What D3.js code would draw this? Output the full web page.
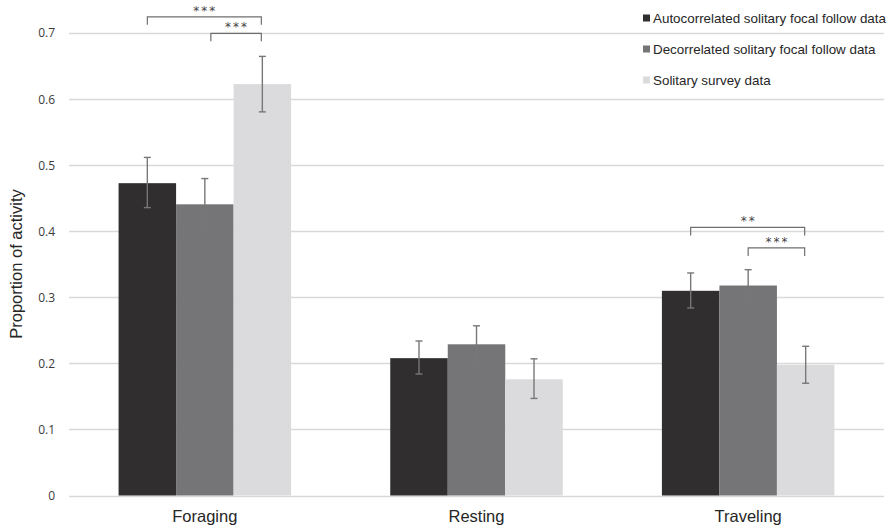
<!DOCTYPE html>
<html><head><meta charset="utf-8">
<script src="https://cdn.jsdelivr.net/npm/d3@7"></script>
<style>body{margin:0;background:#fff}svg{display:block}</style>
</head><body>
<svg id="c" width="892" height="529"></svg>
<script>
const categories = ["Foraging", "Resting", "Traveling"];
const seriesNames = ["Autocorrelated solitary focal follow data", "Decorrelated solitary focal follow data", "Solitary survey data"];
const autoValues   = [0.473, 0.208, 0.310];
const autoErrLow   = [0.436, 0.184, 0.284];
const autoErrHigh  = [0.512, 0.234, 0.337];
const decorValues  = [0.441, 0.229, 0.318];
const decorErrLow  = [0.402, 0.202, 0.296];
const decorErrHigh = [0.480, 0.257, 0.342];
const surveyValues = [0.623, 0.176, 0.198];
const surveyErrLow = [0.581, 0.147, 0.170];
const surveyErrHigh= [0.665, 0.207, 0.226];
const yTicks = [0, 0.1, 0.2, 0.3, 0.4, 0.5, 0.6, 0.7];
const yTickLabels = ["0", "0.1", "0.2", "0.3", "0.4", "0.5", "0.6", "0.7"];
// significance brackets: category, from series, to series, bracket level, label
const bracketCats   = ["Foraging", "Foraging", "Traveling", "Traveling"];
const bracketFrom   = [0, 1, 0, 1];
const bracketTo     = [2, 2, 2, 2];
const bracketLevel  = [0.725, 0.700, 0.406, 0.375];
const bracketLabels = ["***", "***", "**", "***"];

const colors = ["#302e2f", "#757578", "#dbdbdd"];
const values = [autoValues, decorValues, surveyValues];
const lows = [autoErrLow, decorErrLow, surveyErrLow];
const highs = [autoErrHigh, decorErrHigh, surveyErrHigh];

const svg = d3.select("#c");
const mLeft = 69, mRight = 884, mBottom = 495.5;
const y = d3.scaleLinear().domain([0, 0.75]).range([mBottom, mBottom - 0.75 * 660.3]);
const x0 = d3.scaleBand().domain(categories).range([mLeft, mRight]).paddingInner(0.365).paddingOuter(0.1825);
const x1 = d3.scaleBand().domain(d3.range(3)).range([0, x0.bandwidth()]);

// gridlines
svg.append("g").selectAll("line").data(yTicks).join("line")
  .attr("x1", mLeft).attr("x2", mRight)
  .attr("y1", d => Math.round(y(d)) + 0.5).attr("y2", d => Math.round(y(d)) + 0.5)
  .attr("stroke", "#d9d9d9").attr("stroke-width", 1.3);

// y tick labels
svg.append("g").selectAll("text").data(yTicks).join("text")
  .attr("x", 55).attr("y", d => y(d)).attr("dy", "0.35em")
  .attr("text-anchor", "end")
  .attr("font-family", "'Open Sans', sans-serif").attr("font-size", 12).attr("fill", "#3a3a3a")
  .text((d, i) => yTickLabels[i]);

// bars
const data = [];
categories.forEach((c, ci) => {
  for (let s = 0; s < 3; s++) data.push({c, s, v: values[s][ci], lo: lows[s][ci], hi: highs[s][ci]});
});
const g = svg.append("g");
g.selectAll("rect").data(data).join("rect")
  .attr("x", d => x0(d.c) + x1(d.s))
  .attr("width", x1.bandwidth())
  .attr("y", d => y(d.v))
  .attr("height", d => y(0) - y(d.v))
  .attr("fill", d => colors[d.s]);

// error bars
const eb = g.selectAll("g.err").data(data).join("g").attr("class", "err")
  .attr("stroke", "#777").attr("stroke-width", 1.4);
eb.append("line")
  .attr("x1", d => x0(d.c) + x1(d.s) + x1.bandwidth() / 2)
  .attr("x2", d => x0(d.c) + x1(d.s) + x1.bandwidth() / 2)
  .attr("y1", d => y(d.lo)).attr("y2", d => y(d.hi));
eb.append("line")
  .attr("x1", d => x0(d.c) + x1(d.s) + x1.bandwidth() / 2 - 3.5)
  .attr("x2", d => x0(d.c) + x1(d.s) + x1.bandwidth() / 2 + 3.5)
  .attr("y1", d => y(d.hi)).attr("y2", d => y(d.hi));
eb.append("line")
  .attr("x1", d => x0(d.c) + x1(d.s) + x1.bandwidth() / 2 - 3.5)
  .attr("x2", d => x0(d.c) + x1(d.s) + x1.bandwidth() / 2 + 3.5)
  .attr("y1", d => y(d.lo)).attr("y2", d => y(d.lo));

// brackets
const bg = svg.append("g");
bracketCats.forEach((c, i) => {
  let xa = x0(c) + x1(bracketFrom[i]) + x1.bandwidth() / 2;
  const xb = x0(c) + x1(bracketTo[i]) + x1.bandwidth() / 2 - 1;
  if (c === "Foraging" && bracketFrom[i] === 1) xa += 6;
  const yl = y(bracketLevel[i]);
  const leg = 8;
  bg.append("path")
    .attr("d", `M${xa},${yl + leg}V${yl}H${xb}V${yl + leg}`)
    .attr("fill", "none").attr("stroke", "#6f6f6f").attr("stroke-width", 1.2);
  bg.append("text")
    .attr("x", (xa + xb) / 2 + 1).attr("y", yl - 2)
    .attr("text-anchor", "middle")
    .attr("font-family", "'DejaVu Sans', sans-serif").attr("font-size", 12)
    .attr("letter-spacing", 2)
    .attr("fill", "#444")
    .text(bracketLabels[i]);
});

// category labels
svg.append("g").selectAll("text").data(categories).join("text")
  .attr("x", d => x0(d) + x0.bandwidth() / 2).attr("y", 521.5)
  .attr("text-anchor", "middle")
  .attr("font-family", "'Liberation Sans', Arial, sans-serif").attr("font-size", 16.5).attr("fill", "#262626")
  .text(d => d);

// y axis title
svg.append("text")
  .attr("transform", "translate(22,264) rotate(-90)")
  .attr("text-anchor", "middle")
  .attr("font-family", "'Liberation Sans', Arial, sans-serif").attr("font-size", 16.5).attr("fill", "#262626")
  .text("Proportion of activity");

// legend
const lg = svg.append("g");
seriesNames.forEach((n, i) => {
  const by = 22.5 + i * 31;
  lg.append("rect").attr("x", 643).attr("y", by - 8).attr("width", 7).attr("height", 7).attr("fill", colors[i]);
  lg.append("text").attr("x", 653).attr("y", by)
    .attr("font-family", "'Liberation Sans', Arial, sans-serif").attr("font-size", 13.4).attr("fill", "#262626")
    .text(n);
});
</script>
</body></html>
